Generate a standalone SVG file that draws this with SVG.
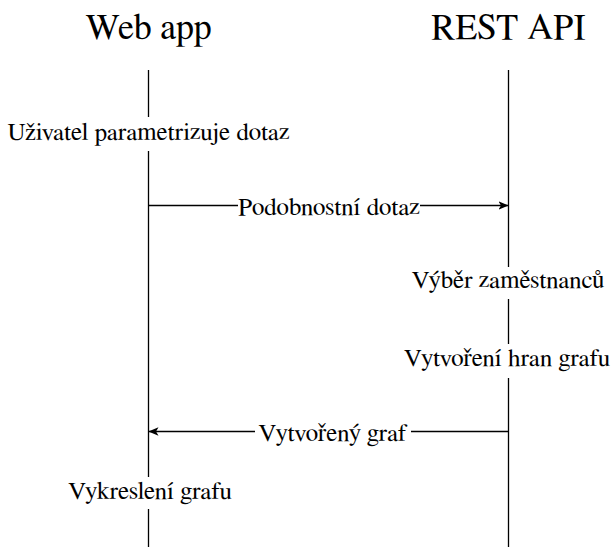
<svg xmlns="http://www.w3.org/2000/svg" width="612" height="547" viewBox="0 0 612 547">
  <style>
    .title { font-family: FreeSerif, 'Liberation Serif', serif; font-size: 36px; fill: #000; text-anchor: middle; }
    .lbl { font-family: FreeSerif, 'Liberation Serif', serif; font-size: 25px; fill: #000; text-anchor: middle; }
    .line { stroke: #000; stroke-width: 1.3; fill: none; }
    .bg { fill: #fff; stroke: none; }
  </style>
  <defs>
    <marker id="arrow" viewBox="0 0 10 10" refX="10" refY="5" markerWidth="10" markerHeight="10" markerUnits="userSpaceOnUse" orient="auto">
      <path d="M0,0.8 L10,5 L0,9.2 L2.5,5 Z" fill="#000"/>
    </marker>
  </defs>
  <rect width="612" height="547" fill="#fff"/>
  <g id="connectors">
    <line class="line" x1="148.5" y1="70" x2="148.5" y2="547"/>
    <line class="line" x1="508.5" y1="70" x2="508.5" y2="547"/>
    <line id="msg1" class="line" x1="148.5" y1="205.5" x2="508.5" y2="205.5" marker-end="url(#arrow)"/>
    <line id="msg2" class="line" x1="508.5" y1="431.5" x2="148.5" y2="431.5" marker-end="url(#arrow)"/>
  </g>
  <g id="webapp"><text class="title" x="148.5" y="39">Web app</text></g>
  <g id="restapi"><text class="title" x="508.5" y="39">REST API</text></g>
  <g id="step-parametrize"><rect class="bg" x="6" y="117" width="286" height="34"/><text class="lbl" x="148.5" y="140">Uživatel parametrizuje dotaz</text></g>
  <g id="label-podobnostni"><rect class="bg" x="238" y="194" width="182" height="24"/><text class="lbl" x="329" y="215">Podobnostní dotaz</text></g>
  <g id="step-vyber"><rect class="bg" x="411" y="267" width="194" height="32"/><text class="lbl" x="508" y="288">Výběr zaměstnanců</text></g>
  <g id="step-hrany"><rect class="bg" x="405" y="344" width="205" height="34"/><text class="lbl" x="507" y="366">Vytvoření hran grafu</text></g>
  <g id="label-graf"><rect class="bg" x="255" y="420" width="156" height="24"/><text class="lbl" x="333" y="441">Vytvořený graf</text></g>
  <g id="step-vykresleni"><rect class="bg" x="68" y="477" width="164" height="32"/><text class="lbl" x="150" y="499">Vykreslení grafu</text></g>
</svg>
